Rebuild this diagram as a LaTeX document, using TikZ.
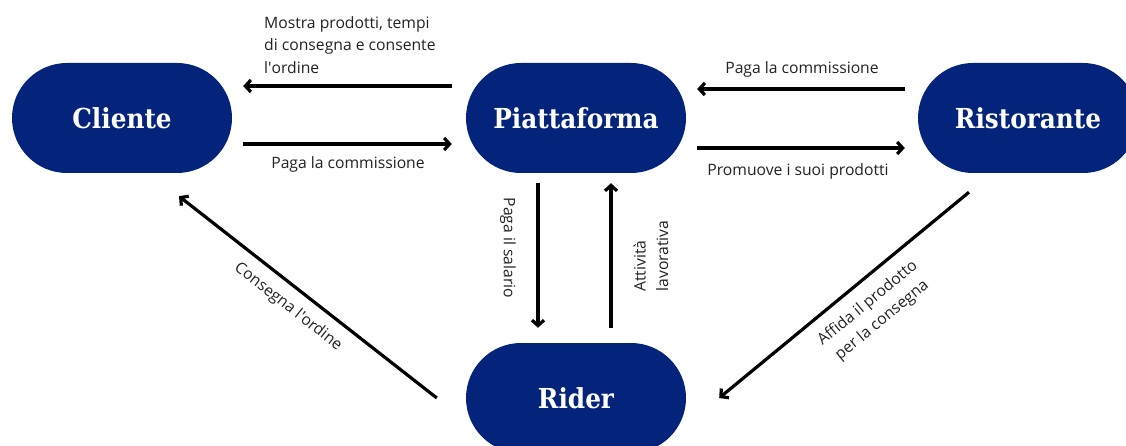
\documentclass[tikz,border=0pt]{standalone}
\usepackage{fontspec}
\setmainfont{Open Sans}
\newfontfamily\pillfont{DejaVu Serif Condensed}
\usetikzlibrary{arrows.meta}
\definecolor{navy}{RGB}{3,36,122}
\definecolor{ink}{RGB}{34,34,34}
\newcommand\apos{\textquotesingle}
\begin{document}
\begin{tikzpicture}[x=1pt,y=-1pt,
  pill/.style={fill=navy, rounded corners=55pt, minimum width=220pt,
    minimum height=110pt, inner sep=0pt, text=white,
    font=\pillfont\bfseries\fontsize{27.5}{31}\selectfont},
  flow/.style={line width=3.2pt, draw=black,
    -{Straight Barb[length=5.5pt,width=12pt]}},
  lbl/.style={font=\fontsize{15.7}{22.5}\selectfont, text=ink, inner sep=0pt}]
\clip (0,0) rectangle (1126,446);

% actors
\node[pill] (cli) at (122,118) {Cliente};
\node[pill] (pia) at (576,118) {Piattaforma};
\node[pill] (ris) at (1028,118) {Ristorante};
\node[pill] (rid) at (576,398) {Rider};

% Piattaforma <-> Cliente
\draw[flow] ([xshift=-14pt,yshift=32pt]pia.west) -- ([xshift=11pt,yshift=32pt]cli.east);
\draw[flow] ([xshift=11pt,yshift=-26pt]cli.east) -- ([xshift=-14pt,yshift=-26pt]pia.west);
% Ristorante <-> Piattaforma
\draw[flow] ([xshift=-13pt,yshift=29pt]ris.west) -- ([xshift=11pt,yshift=29pt]pia.east);
\draw[flow] ([xshift=11pt,yshift=-30pt]pia.east) -- ([xshift=-13pt,yshift=-30pt]ris.west);
% Piattaforma <-> Rider
\draw[flow] ([xshift=-38pt,yshift=-10pt]pia.south) -- ([xshift=-38pt,yshift=15pt]rid.north);
\draw[flow] ([xshift=35pt,yshift=15pt]rid.north) -- ([xshift=35pt,yshift=-10pt]pia.south);
% diagonals
\draw[flow] ([xshift=-29pt]rid.west) -- ([xshift=57pt,yshift=-23pt]cli.south);
\draw[flow] ([xshift=-59pt,yshift=-19pt]ris.south) -- ([xshift=33pt]rid.east);

% labels
\node[lbl, anchor=west, align=left] (l1) at (264,45)
  {Mostra prodotti, tempi\\di consegna e consente\\l\apos ordine};
\node[lbl] (l2) at (348,164) {Paga la commissione};
\node[lbl] (l3) at (802,69) {Paga la commissione};
\node[lbl] (l4) at (798,171) {Promuove i suoi prodotti};
\node[lbl, rotate=-90] (l5) at (508,248) {Paga il salario};
\node[lbl, rotate=90, align=left] (l6) at (651,256) {Attività\\lavorativa};
\node[lbl, rotate=-38] (l7) at (288,307) {Consegna l\apos ordine};
\node[lbl, rotate=39.5, align=center] (l8) at (875,312) {Affida il prodotto\\per la consegna};
\end{tikzpicture}
\end{document}
